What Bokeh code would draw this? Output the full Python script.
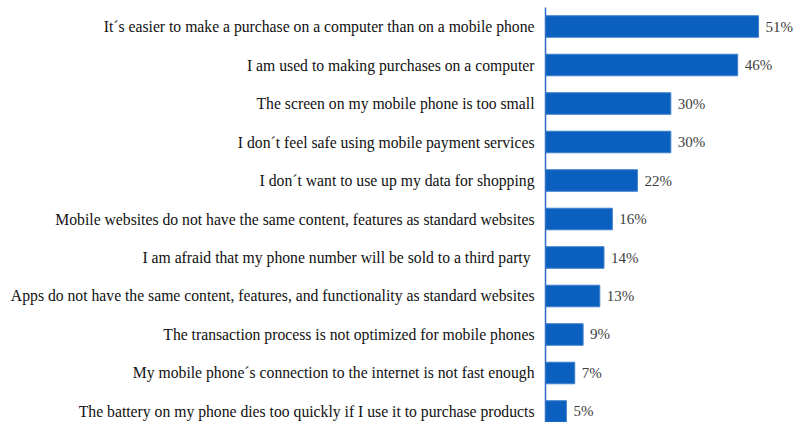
from bokeh.plotting import figure
from bokeh.models import Range1d, FixedTicker, ColumnDataSource, LabelSet
from bokeh.embed import file_html
from bokeh.resources import INLINE

categories = [
    "It\u00b4s easier to make a purchase on a computer than on a mobile phone",
    "I am used to making purchases on a computer",
    "The screen on my mobile phone is too small",
    "I don\u00b4t feel safe using mobile payment services",
    "I don\u00b4t want to use up my data for shopping",
    "Mobile websites do not have the same content, features as standard websites",
    "I am afraid that my phone number will be sold to a third party ",
    "Apps do not have the same content, features, and functionality as standard websites",
    "The transaction process is not optimized for mobile phones",
    "My mobile phone\u00b4s connection to the internet is not fast enough",
    "The battery on my phone dies too quickly if I use it to purchase products",
]
values = [51, 46, 30, 30, 22, 16, 14, 13, 9, 7, 5]

FONT = "Liberation Serif"

n = len(categories)
ypos = [n - 1 - i for i in range(n)]
src = ColumnDataSource(dict(y=ypos, v=values, lab=[f"{v}%" for v in values]))

p = figure(width=794, height=422, output_backend="svg", toolbar_location=None,
           x_range=Range1d(0, 59.6), y_range=Range1d(-0.286, n - 1 + 0.494),
           min_border_left=545, min_border_right=0, min_border_top=7, min_border_bottom=0)
p.hbar(y="y", right="v", left=0, height=0.56, source=src,
       fill_color="#0B5FBE", line_color="#3F80CC", line_width=1)
p.add_layout(LabelSet(x="v", y="y", text="lab", source=src, x_offset=7,
                      text_baseline="middle", text_font=FONT,
                      text_font_size="15px", text_color="#404040"))

p.xaxis.visible = False
p.yaxis.ticker = FixedTicker(ticks=ypos)
p.yaxis.major_label_overrides = {y: c for y, c in zip(ypos, categories)}
p.yaxis.major_label_text_font = FONT
p.yaxis.major_label_text_font_size = "15.7px"
p.yaxis.major_label_text_color = "#111111"
p.yaxis.major_tick_line_color = None
p.yaxis.minor_tick_line_color = None
p.yaxis.axis_line_color = "#2F6FC8"
p.yaxis.axis_line_width = 1.5
p.yaxis.major_label_standoff = 5
p.xgrid.visible = False
p.ygrid.visible = False
p.outline_line_color = None
p.background_fill_color = "white"

open("out.html", "w").write(file_html(p, INLINE))
